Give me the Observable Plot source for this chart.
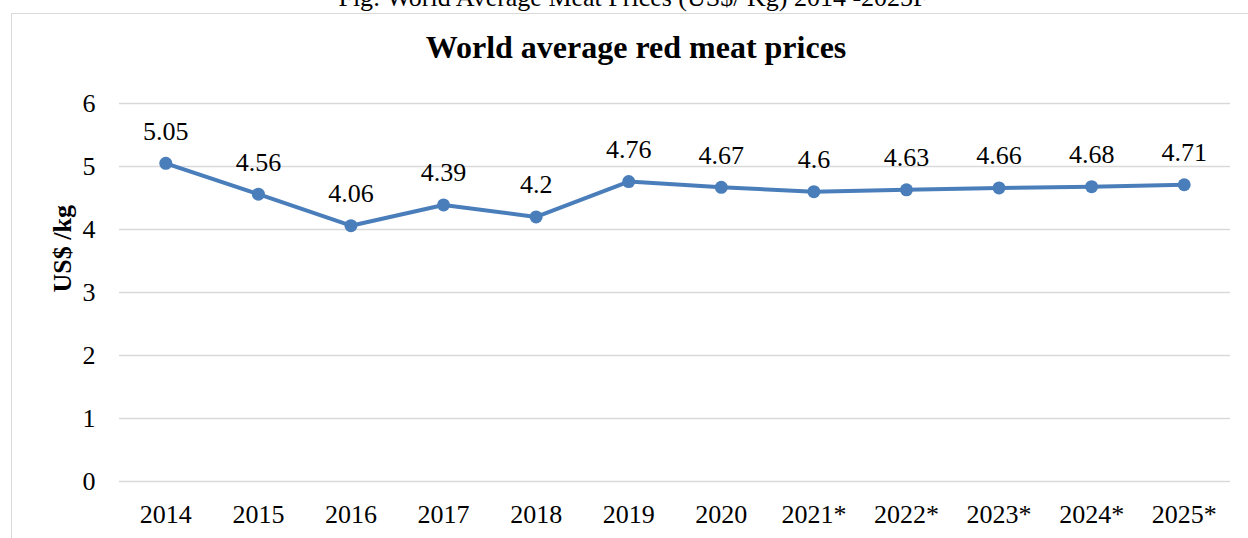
<!DOCTYPE html>
<html>
<head>
<meta charset="utf-8">
<script src="https://cdn.jsdelivr.net/npm/d3@7"></script>
<script src="https://cdn.jsdelivr.net/npm/@observablehq/plot@0.6"></script>
<style>
  html, body { margin: 0; padding: 0; background: #fff; }
  #wrap { position: relative; width: 1248px; height: 538px; overflow: hidden; font-family: "Liberation Serif", "Times New Roman", serif; }
  #box { position: absolute; left: 11px; top: 13px; width: 1400px; height: 700px; border: 1px solid #d9d9d9; box-sizing: border-box; }
  #fig { position: absolute; left: 0; width: 1266px; top: -15px; text-align: center; font-size: 26px; line-height: 26px; color: #000; white-space: nowrap; }
  #title { position: absolute; left: 0; width: 1272px; top: 31px; text-align: center; font-size: 32px; line-height: 32px; font-weight: bold; color: #000; }
  #chart { position: absolute; left: 0; top: 0; }
</style>
</head>
<body>
<div id="wrap">
  <div id="fig">Fig: World Average Meat Prices (US$/ Kg) 2014 -2025F</div>
  <div id="box"></div>
  <div id="title">World average red meat prices</div>
  <div id="chart"></div>
</div>
<script>
const years = ["2014", "2015", "2016", "2017", "2018", "2019", "2020", "2021*", "2022*", "2023*", "2024*", "2025*"];
const prices = [5.05, 4.56, 4.06, 4.39, 4.2, 4.76, 4.67, 4.6, 4.63, 4.66, 4.68, 4.71];
const yTicks = [0, 1, 2, 3, 4, 5, 6];
const yLabel = "US$ /kg";

const data = years.map((y, i) => ({year: y, price: prices[i]}));
const lineColor = "#4a7ebb";
const serif = "'Liberation Serif', 'Times New Roman', serif";

const chart = Plot.plot({
  width: 1248,
  height: 538,
  marginLeft: 119,
  marginRight: 18,
  marginTop: 103,
  marginBottom: 57,
  style: { fontFamily: serif, fontSize: "26px", background: "transparent", color: "#000" },
  x: { type: "point", domain: years, padding: 0.5, round: false, label: null, tickSize: 0, tickPadding: 23 },
  y: { domain: [0, 6], ticks: yTicks, label: null, tickSize: 0, tickPadding: 24, tickFormat: d3.format("d") },
  marks: [
    Plot.gridY(yTicks, { stroke: "#d9d9d9", strokeOpacity: 1, strokeWidth: 1.5 }),
    Plot.line(data, { x: "year", y: "price", stroke: lineColor, strokeWidth: 4 }),
    Plot.dot(data, { x: "year", y: "price", r: 6.5, fill: lineColor, stroke: "none" }),
    Plot.text(data, { x: "year", y: "price", text: d => String(d.price), dy: -32, fontSize: 26, fill: "#000" }),
    Plot.text([yLabel], { frameAnchor: "left", text: d => d, rotate: -90, dx: -57, fontSize: 26, fontWeight: "bold", fill: "#000" })
  ]
});
document.getElementById("chart").appendChild(chart);
</script>
</body>
</html>
